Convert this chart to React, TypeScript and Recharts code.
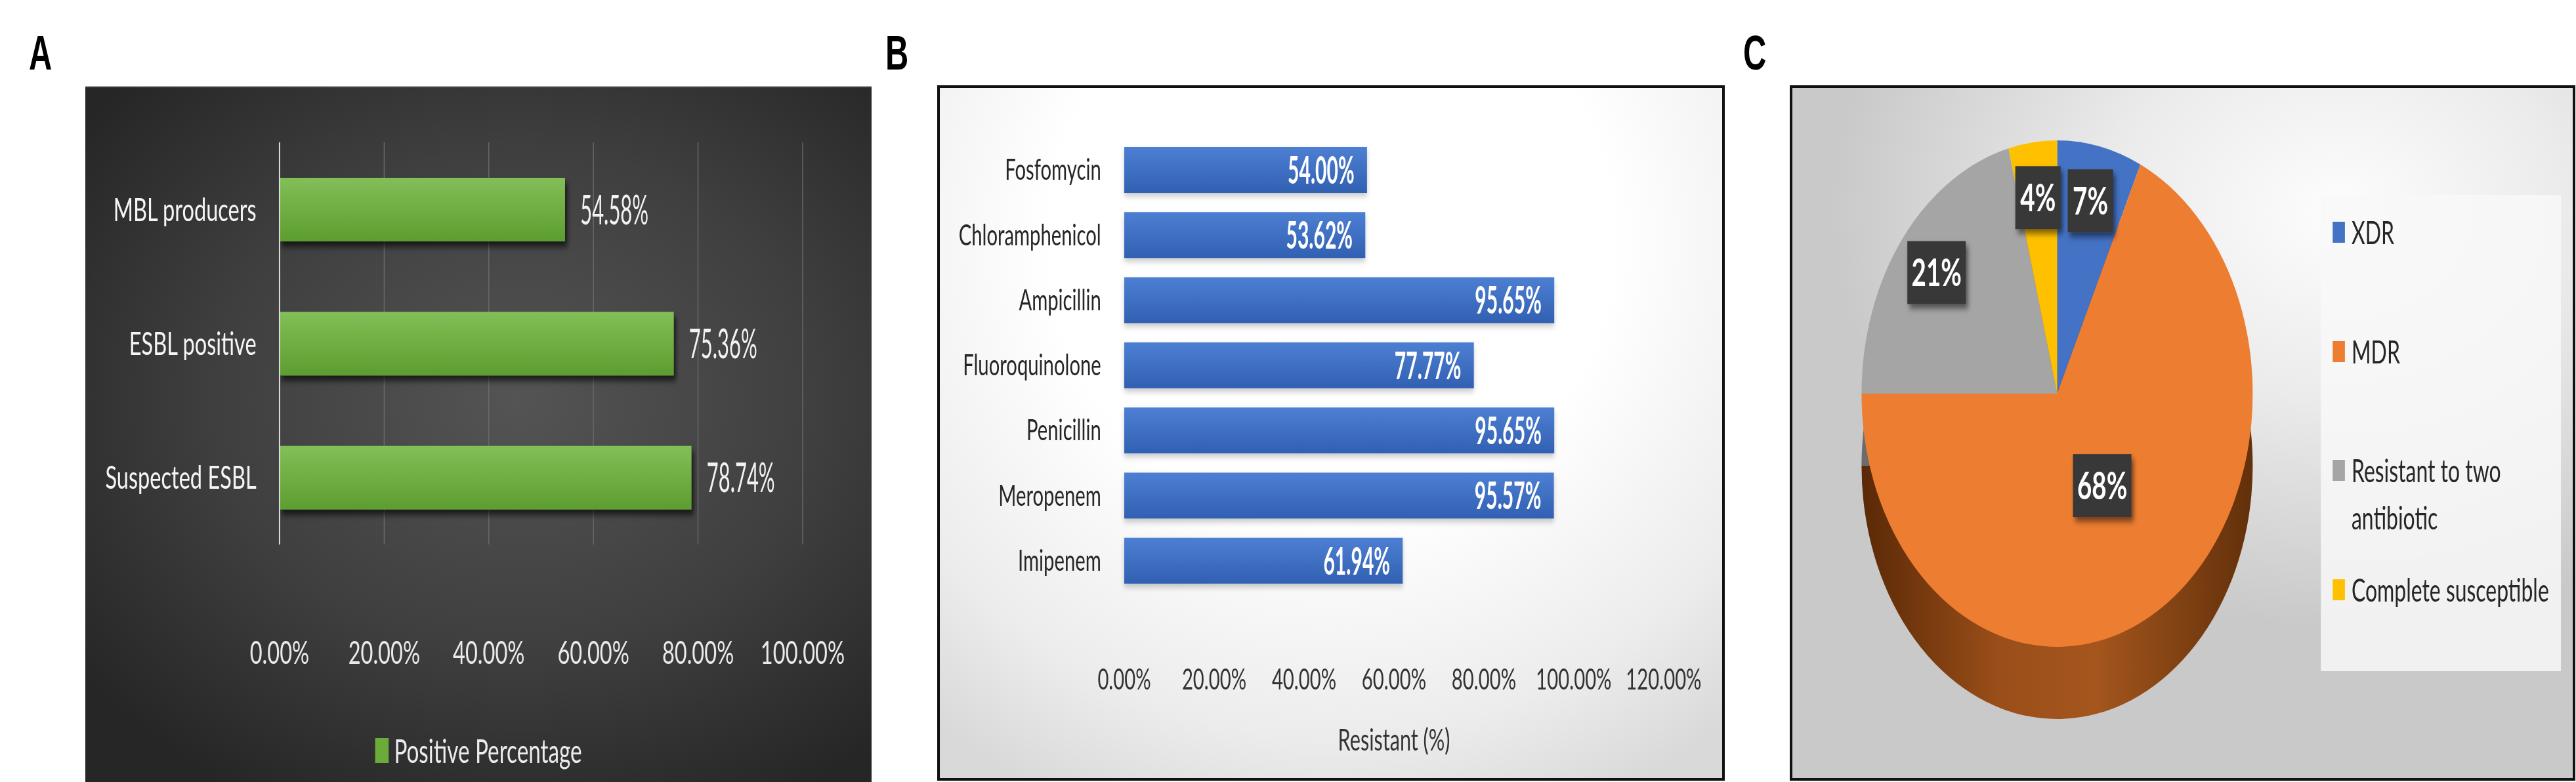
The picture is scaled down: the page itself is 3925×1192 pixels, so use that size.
import React from 'react';
import { BarChart, Bar, XAxis, YAxis, CartesianGrid, LabelList, PieChart, Pie, Cell } from 'recharts';

// the whole figure is squeezed horizontally, so every panel is drawn wide and scaled down
const S = 0.665;
const FONT = 'Lato, "Noto Sans", sans-serif';

// A - ESBL / MBL screening
const screenCategories = ['MBL producers', 'ESBL positive', 'Suspected ESBL'];
const screenValues = [54.58, 75.36, 78.74];
const screenTicks = [0, 20, 40, 60, 80, 100];
const screenLegend = 'Positive Percentage';

// B - resistance per antibiotic
const drugCategories = ['Fosfomycin', 'Chloramphenicol', 'Ampicillin', 'Fluoroquinolone', 'Penicillin', 'Meropenem', 'Imipenem'];
const resistantValues = [54.0, 53.62, 95.65, 77.77, 95.65, 95.57, 61.94];
const resistantTicks = [0, 20, 40, 60, 80, 100, 120];
const resistantAxisTitle = 'Resistant (%)';

// C - resistance profile
const profileNames = ['XDR', 'MDR', 'Resistant to two antibiotic', 'Complete susceptible'];
const profileShares = [7, 68, 21, 4];

const profileColors = ['#4472C4', '#ED7D31', '#A5A5A5', '#FFC000'];
const profileSideColors = ['#2b4c88', 'url(#sideC)', '#6c6c6c', '#a57c00'];

const pct = (v: any) => `${Number(v).toFixed(2)}%`;

// bar rect from LabelList content props (v3 passes a viewBox)
const barBox = (p: any) => {
  const vb = p.viewBox || {};
  return {
    x: vb.x ?? p.x,
    y: vb.y ?? p.y,
    width: vb.width ?? p.width,
    height: vb.height ?? p.height,
  };
};

// narrower, taller value text like the compressed Calibri in the figure
const valueOutside = (p: any) => {
  const b = barBox(p);
  const tx = b.x + b.width + 35;
  const ty = b.y + b.height / 2;
  return (
    <text transform={`translate(${tx},${ty}) scale(0.75,1)`} dy="0.36em" textAnchor="start" fill="#f2f2f2" fontSize={62} fontFamily={FONT}>
      {pct(p.value)}
    </text>
  );
};

const valueInside = (p: any) => {
  const b = barBox(p);
  const tx = b.x + b.width - 29;
  const ty = b.y + b.height / 2;
  return (
    <text transform={`translate(${tx},${ty}) scale(0.78,1)`} dy="0.36em" textAnchor="end" fill="#fff" fontSize={58} fontWeight={700} fontFamily={FONT}>
      {pct(p.value)}
    </text>
  );
};

function PanelLetter({ text, left }: { text: string; left: number }) {
  return (
    <div
      style={{
        position: 'absolute',
        left,
        top: 44,
        fontFamily: '"Liberation Sans", Arial, sans-serif',
        fontWeight: 700,
        fontSize: 74,
        lineHeight: '74px',
        color: '#000',
        transform: 'scaleX(0.66)',
        transformOrigin: '0 0',
      }}
    >
      {text}
    </div>
  );
}

function PanelA() {
  const data = screenCategories.map((name, i) => ({ name, value: screenValues[i] }));
  const W = 1198;
  const H = 1059;
  const w = W / S;
  return (
    <div
      style={{
        position: 'absolute',
        left: 130,
        top: 131,
        width: W,
        height: 1061,
        boxSizing: 'border-box',
        borderTop: '2px solid #9a9a9a',
        overflow: 'hidden',
        background: 'radial-gradient(ellipse 70% 65% at 55% 45%, #545454 0%, #3f3f3f 55%, #262626 100%)',
      }}
    >
      <div style={{ position: 'absolute', left: 0, top: 0, width: w, height: H, transform: `scaleX(${S})`, transformOrigin: '0 0' }}>
        <BarChart width={w} height={H} data={data} layout="vertical" margin={{ top: 84, right: w - 1643.6, bottom: 0, left: 0 }}>
          <defs>
            <linearGradient id="gA" x1="0" y1="0" x2="0" y2="1">
              <stop offset="0%" stopColor="#82bf58" />
              <stop offset="100%" stopColor="#5d9d2f" />
            </linearGradient>
            <filter id="shA" x="-5%" y="-30%" width="115%" height="180%">
              <feDropShadow dx="5" dy="8" stdDeviation="5" floodColor="#000" floodOpacity="0.65" />
            </filter>
          </defs>
          <CartesianGrid horizontal={false} stroke="#6c6c6c" strokeWidth={2} />
          <XAxis
            type="number"
            domain={[0, 100]}
            ticks={screenTicks}
            interval={0}
            tickFormatter={pct}
            axisLine={false}
            tickLine={false}
            tickSize={0}
            tickMargin={147}
            height={362}
            tick={{ fill: '#e9e9e9', fontSize: 49, fontFamily: FONT }}
          />
          <YAxis
            type="category"
            dataKey="name"
            width={445}
            axisLine={{ stroke: '#dcdcdc', strokeWidth: 3 }}
            tickLine={false}
            tickSize={0}
            tickMargin={53}
            tick={{ fill: '#f5f5f5', fontSize: 49, fontFamily: FONT }}
          />
          <Bar
            dataKey="value"
            barSize={97}
            isAnimationActive={false}
            shape={(p: any) => (
              <rect x={p.x} y={p.y} width={p.width} height={p.height} fill="url(#gA)" filter="url(#shA)" />
            )}
          >
            <LabelList dataKey="value" content={valueOutside} />
          </Bar>
        </BarChart>
        <div
          style={{
            position: 'absolute',
            left: 0,
            top: 975,
            width: w,
            height: 72,
            display: 'flex',
            justifyContent: 'center',
            alignItems: 'center',
            gap: 12,
          }}
        >
          <span style={{ display: 'inline-block', width: 21 / S, height: 38, background: '#6aab3a' }} />
          <span style={{ color: '#ececec', fontSize: 50, fontFamily: FONT, lineHeight: '72px' }}>{screenLegend}</span>
        </div>
      </div>
    </div>
  );
}

function PanelB() {
  const data = drugCategories.map((name, i) => ({ name, value: resistantValues[i] }));
  const W = 1192;
  const H = 1052;
  const w = W / S;
  return (
    <div
      style={{
        position: 'absolute',
        left: 1428,
        top: 130,
        width: 1200,
        height: 1060,
        boxSizing: 'border-box',
        border: '4px solid #111',
        overflow: 'hidden',
        background: 'radial-gradient(ellipse 80% 90% at 50% 22%, #ffffff 45%, #ececec 80%, #d9d9d9 100%)',
      }}
    >
      <div style={{ position: 'absolute', left: 0, top: 0, width: w, height: H, transform: `scaleX(${S})`, transformOrigin: '0 0' }}>
        <BarChart width={w} height={H} data={data} layout="vertical" margin={{ top: 75, right: w - 1658.6, bottom: 0, left: 0 }}>
          <defs>
            <linearGradient id="gB" x1="0" y1="0" x2="0" y2="1">
              <stop offset="0%" stopColor="#4d7fd2" />
              <stop offset="100%" stopColor="#3160b2" />
            </linearGradient>
            <filter id="shB" x="-5%" y="-30%" width="115%" height="180%">
              <feDropShadow dx="0" dy="5" stdDeviation="5" floodColor="#000" floodOpacity="0.22" />
            </filter>
          </defs>
          <XAxis
            type="number"
            domain={[0, 120]}
            ticks={resistantTicks}
            interval={0}
            tickFormatter={pct}
            axisLine={false}
            tickLine={false}
            tickSize={0}
            tickMargin={116}
            height={282}
            tick={{ fill: '#333', fontSize: 44, fontFamily: FONT }}
            label={{ value: resistantAxisTitle, position: 'insideBottom', offset: 42, fill: '#333', fontSize: 46, fontFamily: FONT }}
          />
          <YAxis
            type="category"
            dataKey="name"
            width={422.6}
            axisLine={false}
            tickLine={false}
            tickSize={0}
            tickMargin={53}
            tick={{ fill: '#262626', fontSize: 44, fontFamily: FONT }}
          />
          <Bar
            dataKey="value"
            barSize={70}
            isAnimationActive={false}
            shape={(p: any) => (
              <rect x={p.x} y={p.y} width={p.width} height={p.height} fill="url(#gB)" filter="url(#shB)" />
            )}
          >
            <LabelList dataKey="value" content={valueInside} />
          </Bar>
        </BarChart>
      </div>
    </div>
  );
}

const RAD = Math.PI / 180;
const PIE_R = 386;
const PIE_SX = 298 / PIE_R;
const TAG_K = S / PIE_SX;

function PieTag(props: any) {
  const { cx, cy, midAngle, outerRadius, percent, value } = props;
  const r = outerRadius * (percent > 0.5 ? 0.43 : 0.78);
  const x = cx + r * Math.cos(-midAngle * RAD);
  const y = cy + r * Math.sin(-midAngle * RAD);
  const text = `${value}%`;
  const w = text.length * 30 + 44;
  return (
    <g transform={`translate(${x},${y}) scale(${TAG_K},1)`}>
      <rect x={-w / 2} y={-48} width={w} height={96} fill="#383838" filter="url(#shC)" />
      <text x={0} y={0} dy="0.36em" textAnchor="middle" fill="#fff" fontSize={58} fontWeight={700} fontFamily={FONT}>
        {text}
      </text>
    </g>
  );
}

function PanelC() {
  const data = profileNames.map((name, i) => ({ name, value: profileShares[i] }));
  const cw = 1189;
  const ch = 1052;
  const pieW = 900;
  const cx = 450;
  const cy = 466;
  return (
    <div
      style={{
        position: 'absolute',
        left: 2727,
        top: 130,
        width: 1197,
        height: 1060,
        boxSizing: 'border-box',
        border: '4px solid #111',
        overflow: 'hidden',
        background: 'radial-gradient(ellipse 65% 60% at 70% 18%, #fdfdfd 0%, #ebebeb 45%, #c9c9c9 100%)',
      }}
    >
      <div style={{ position: 'absolute', left: 403 - cx * PIE_SX, top: 0, width: pieW, height: 1050, transform: `scaleX(${PIE_SX})`, transformOrigin: '0 0' }}>
        <PieChart width={pieW} height={1050} margin={{ top: 0, right: 0, bottom: 0, left: 0 }}>
          <defs>
            <linearGradient id="sideC" x1="0" y1="0" x2="1" y2="0">
              <stop offset="0%" stopColor="#5a2906" />
              <stop offset="35%" stopColor="#9a4e19" />
              <stop offset="60%" stopColor="#a4561d" />
              <stop offset="100%" stopColor="#62300a" />
            </linearGradient>
            <filter id="shC" x="-30%" y="-30%" width="170%" height="170%">
              <feDropShadow dx="5" dy="7" stdDeviation="5" floodColor="#000" floodOpacity="0.5" />
            </filter>
          </defs>
          <Pie
            data={data}
            dataKey="value"
            nameKey="name"
            cx={cx}
            cy={cy + 110}
            outerRadius={PIE_R}
            startAngle={90}
            endAngle={-270}
            stroke="none"
            isAnimationActive={false}
          >
            {data.map((d, i) => (
              <Cell key={d.name} fill={profileSideColors[i]} />
            ))}
          </Pie>
          <Pie
            data={data}
            dataKey="value"
            nameKey="name"
            cx={cx}
            cy={cy}
            outerRadius={PIE_R}
            startAngle={90}
            endAngle={-270}
            stroke="none"
            label={PieTag}
            labelLine={false}
            isAnimationActive={false}
          >
            {data.map((d, i) => (
              <Cell key={d.name} fill={profileColors[i]} />
            ))}
          </Pie>
        </PieChart>
      </div>
      <div style={{ position: 'absolute', left: 0, top: 0, width: cw / S, height: ch, transform: `scaleX(${S})`, transformOrigin: '0 0' }}>
        <div style={{ position: 'absolute', left: 805 / S, top: 163, width: 366 / S, height: 726, background: 'rgba(248,248,248,0.85)' }} />
        <div style={{ position: 'absolute', left: 823 / S, top: 184, width: 520 }}>
          {data.map((d, i) => (
            <div key={d.name} style={{ height: 181.5, display: 'flex', alignItems: 'flex-start' }}>
              <span style={{ display: 'inline-block', flex: 'none', width: 19 / S, height: 32, marginTop: 20, marginRight: 15, background: profileColors[i] }} />
              <span style={{ width: 480, color: '#262626', fontSize: 48, lineHeight: '72px', fontFamily: FONT }}>{d.name}</span>
            </div>
          ))}
        </div>
      </div>
    </div>
  );
}

export default function App() {
  return (
    <div style={{ position: 'absolute', left: 0, top: 0, width: 3925, height: 1192, background: '#fff', overflow: 'hidden' }}>
      <PanelLetter text="A" left={44} />
      <PanelLetter text="B" left={1349} />
      <PanelLetter text="C" left={2656} />
      <PanelA />
      <PanelB />
      <PanelC />
    </div>
  );
}
